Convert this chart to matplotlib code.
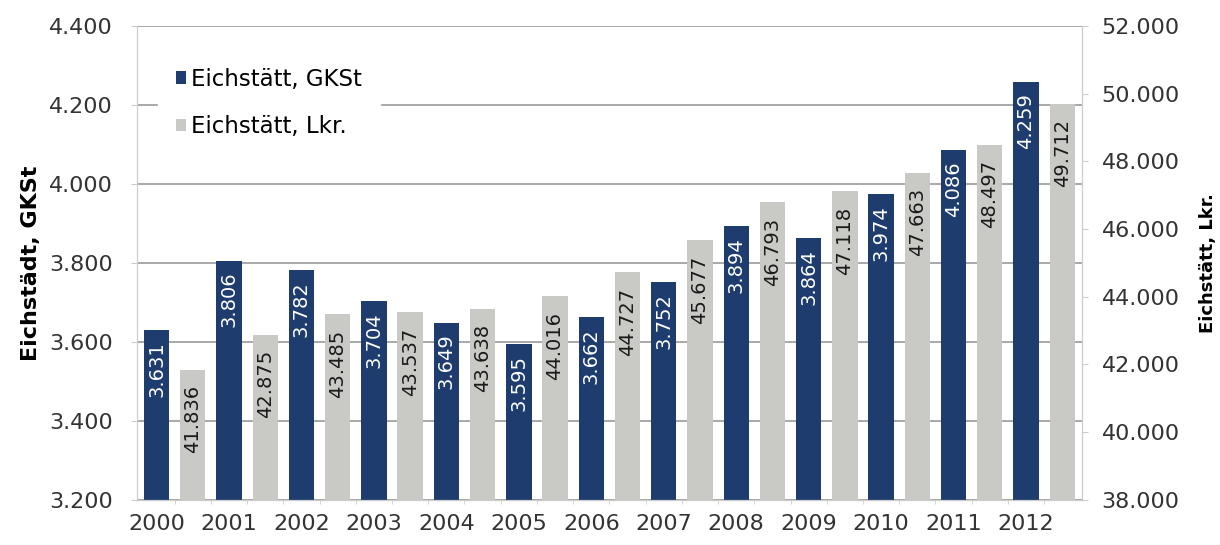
import matplotlib.pyplot as plt
import numpy as np
from matplotlib.ticker import FuncFormatter, FixedLocator

plt.rcParams['font.family'] = ['DejaVu Sans']

years = ['2000', '2001', '2002', '2003', '2004', '2005', '2006',
         '2007', '2008', '2009', '2010', '2011', '2012']
gkst = [3631, 3806, 3782, 3704, 3649, 3595, 3662, 3752, 3894, 3864, 3974, 4086, 4259]
lkr = [41836, 42875, 43485, 43537, 43638, 44016, 44727, 45677, 46793, 47118, 47663, 48497, 49712]

dark = '#1e3d6e'
light = '#c9c9c5'


def de(v, pos=None):
    return '{:,}'.format(int(v)).replace(',', '.')


x = np.arange(len(years)) * 2  # dark bar positions, light bar at x+1
width = 0.7

fig, ax = plt.subplots(figsize=(12.2, 5.45), dpi=100)
fig.subplots_adjust(left=0.112, right=0.887, top=0.952, bottom=0.083)
ax2 = ax.twinx()

b1 = ax.bar(x, np.array(gkst) - 3200, width, bottom=3200, color=dark,
            label='Eichstätt, GKSt', zorder=2)
b2 = ax2.bar(x + 1, np.array(lkr) - 38000, width, bottom=38000, color=light,
             label='Eichstätt, Lkr.', zorder=2)

ax.set_ylim(3200, 4400)
ax2.set_ylim(38000, 52000)
ax.set_xlim(-0.55, 25.55)
ax.set_yticks(np.arange(3200, 4401, 200))
ax2.set_yticks(np.arange(38000, 52001, 2000))
ax.yaxis.set_major_formatter(FuncFormatter(de))
ax2.yaxis.set_major_formatter(FuncFormatter(de))
ax.set_xticks(x)
ax.set_xticklabels(years)
ax.xaxis.set_minor_locator(FixedLocator(np.arange(0.5, 25, 1)))

ax.grid(axis='y', color='#999999', linewidth=1.2, zorder=0)
ax.set_axisbelow(True)

for a in (ax, ax2):
    for s in a.spines.values():
        s.set_color('#cccccc')
    a.spines['top'].set_visible(False)
    a.tick_params(labelsize=16, colors='#333333', length=4)
ax.tick_params(axis='x', which='major', length=0, pad=10)
ax.tick_params(axis='x', which='minor', length=3, color='#cccccc')
ax.tick_params(axis='y', color='#cccccc', pad=13)
ax2.tick_params(axis='y', color='#cccccc', pad=10)

ax.set_ylabel('Eichstädt, GKSt', fontsize=16, fontweight='bold', labelpad=6)
ax2.set_ylabel('Eichstätt, Lkr.', fontsize=13, fontweight='bold', labelpad=14)

# value labels inside bar tops
for rect, v in zip(b1, gkst):
    ax.annotate(de(v), xy=(rect.get_x() + rect.get_width() / 2, v),
                xytext=(0, -8), textcoords='offset points', rotation=90,
                ha='center', va='top', color='white', fontsize=14)
for rect, v in zip(b2, lkr):
    ax2.annotate(de(v), xy=(rect.get_x() + rect.get_width() / 2, v),
                 xytext=(0, -11), textcoords='offset points', rotation=90,
                 ha='center', va='top', color='#1a1a1a', fontsize=14)

leg = ax2.legend([b1, b2], ['Eichstätt, GKSt', 'Eichstätt, Lkr.'],
                 loc='upper left', bbox_to_anchor=(0.01, 0.975), frameon=True,
                 fontsize=16.5, handlelength=0.45, handleheight=0.45,
                 handletextpad=0.2, labelspacing=1.05, borderpad=0.8)
leg.get_frame().set_edgecolor('white')
leg.get_frame().set_facecolor('white')
leg.get_frame().set_alpha(1)

fig.savefig('out.png')
